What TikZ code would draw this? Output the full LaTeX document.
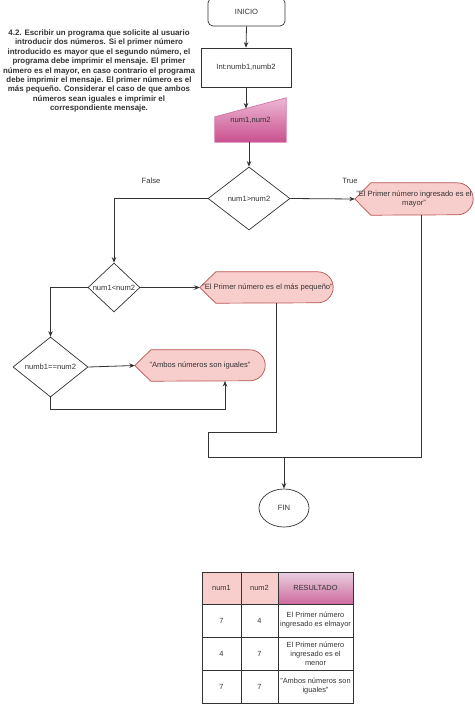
\documentclass[tikz,border=0pt]{standalone}
\usepackage{fontspec}
\setmainfont{Liberation Sans}
\usetikzlibrary{shapes.geometric,arrows.meta,backgrounds}
\definecolor{linec}{HTML}{333333}
\definecolor{pinkfill}{HTML}{F8CECC}
\definecolor{pinkline}{HTML}{B85450}
\definecolor{magtop}{HTML}{EDB8D5}
\definecolor{magbot}{HTML}{C9508E}
\definecolor{restop}{HTML}{E8D0E0}
\definecolor{resbot}{HTML}{CE6A9E}
\definecolor{txt}{HTML}{333333}
\begin{document}
\begin{tikzpicture}[x=1pt,y=1pt,
  every node/.style={font=\fontsize{7.6}{8.6}\selectfont, text=txt},
  conn/.style={draw=linec, line width=0.8pt},
  arr/.style={conn, -{Stealth[length=5.5pt,width=4.5pt]}},
  startend/.style={draw=linec, rounded corners=5pt, line width=0.7pt, inner sep=0pt, minimum width=77pt, minimum height=28pt},
  procbox/.style={draw=linec, line width=0.7pt, inner sep=0pt, minimum width=90pt, minimum height=39pt},
  decis/.style={diamond, draw=linec, line width=0.7pt, inner sep=0pt},
  holder/.style={inner sep=0pt, align=center},
  dispshape/.style={fill=pinkfill, draw=pinkline, line width=0.7pt},
  cell/.style={draw=linec, line width=0.6pt, inner sep=0pt, align=center, font=\fontsize{7.4}{9}\selectfont},
  lbl/.style={font=\fontsize{7.6}{8.6}\selectfont}
]
\useasboundingbox (0,0) rectangle (474,-704);

% problem statement
\node[align=center, font=\fontsize{7.9}{9.4}\selectfont\bfseries] (stmt) at (99,-71) {4.2. Escribir un programa que solicite al usuario\\
introducir dos números. Si el primer número\\
introducido es mayor que el segundo número, el\\
programa debe imprimir el mensaje. El primer\\
número es el mayor, en caso contrario el programa\\
debe imprimir el mensaje. El primer número es el\\
más pequeño. Considerar el caso de que ambos\\
números sean iguales e imprimir el\\
correspondiente mensaje.};

% flowchart nodes
\node[startend] (inicio) at (246.5,-12) {INICIO};
\node[procbox] (decl) at (246,-67.5) {Int:numb1,numb2};
\node[holder, minimum width=71pt, minimum height=44pt] (inp) at (250.5,-120) {num1,num2};
\coordinate (inptop) at (246,-108.5);
\coordinate (inpbot) at (249,-142);

\node[decis, minimum width=82pt, minimum height=63pt] (d1) at (249,-198.5) {\makebox[0pt]{num1>num2}};
\node[holder, minimum width=118pt, minimum height=32pt] (m1) at (414,-199) {"El Primer número ingresado es el\\mayor"};
\node[decis, minimum width=52pt, minimum height=49pt] (d2) at (114,-287.5) {\makebox[0pt]{num1<num2}};
\node[holder, minimum width=133pt, minimum height=31pt] (m2) at (266.5,-287.5) {\hspace*{2pt}"El Primer número es el más pequeño"};
\node[decis, minimum width=75pt, minimum height=60pt] (d3) at (50.5,-367) {\makebox[0pt]{numb1==num2}};
\node[holder, minimum width=130pt, minimum height=31pt] (m3) at (200,-365.5) {"Ambos números son iguales"};
\node[ellipse, draw=linec, line width=0.7pt, inner sep=0pt, minimum width=50pt, minimum height=38pt] (fin) at (284,-508) {FIN};

\node[lbl] (tfalse) at (151,-181) {False};
\node[lbl] (ttrue) at (350,-181) {True};

% shapes drawn behind text
\begin{pgfonlayer}{background}
\shade[top color=magtop, bottom color=magbot, draw=magbot!80!white, line width=0.7pt]
  ([yshift=-19pt]inp.north west) -- (inp.north east) -- (inp.south east) -- (inp.south west) -- cycle;
\path[dispshape] (m1.west) -- ([xshift=16pt]m1.north west) -- ([xshift=-16pt]m1.north east)
  arc[start angle=90,end angle=-90,radius=16pt] -- ([xshift=16pt]m1.south west) -- cycle;
\path[dispshape] (m2.west) -- ([xshift=16pt]m2.north west) -- ([xshift=-15.5pt]m2.north east)
  arc[start angle=90,end angle=-90,radius=15.5pt] -- ([xshift=16pt]m2.south west) -- cycle;
\path[dispshape] (m3.west) -- ([xshift=16pt]m3.north west) -- ([xshift=-15.5pt]m3.north east)
  arc[start angle=90,end angle=-90,radius=15.5pt] -- ([xshift=16pt]m3.south west) -- cycle;
\end{pgfonlayer}

% connectors
\coordinate (m1out) at (421,-215);
\coordinate (mR) at (421,-457);
\coordinate (mL) at (208,-457);
\coordinate (m2out) at (276,-303);
\coordinate (m2corner) at (276,-432);
\coordinate (jL) at (208,-432);
\coordinate (finin) at (284,-457);
\coordinate (f1) at (114,-198.5);
\coordinate (f2) at (50.5,-287.5);
\coordinate (e1) at (50.5,-409);
\coordinate (e2) at (225,-409);
\coordinate (m3in) at (225,-381);

\draw[arr] (inicio.south) -- (decl.north);
\draw[arr] (decl.south) -- (inptop);
\draw[arr] (inpbot) -- (d1.north);
\draw[arr] (d1.east) -- (m1.west);
\draw[arr] (d1.west) -- (f1) -- (d2.north);
\draw[arr] (d2.east) -- (m2.west);
\draw[arr] (d2.west) -- (f2) -- (d3.north);
\draw[arr] (d3.east) -- (m3.west);
\draw[arr] (d3.south) -- (e1) -- (e2) -- (m3in);
\draw[conn] (m1out) -- (mR) -- (mL) -- (jL) -- (m2corner) -- (m2out);
\draw[arr] (finin) -- (fin.north);

% table
\node[cell, fill=pinkfill, minimum width=39pt, minimum height=32pt] (h1) at (221.5,-588) {num1};
\node[cell, fill=pinkfill, minimum width=37pt, minimum height=32pt] (h2) at (259.5,-588) {num2};
\node[cell, top color=restop, bottom color=resbot, minimum width=75pt, minimum height=32pt] (h3) at (315.5,-588) {RESULTADO};
\node[cell, minimum width=39pt, minimum height=33pt] (r11) at (221.5,-620.5) {7};
\node[cell, minimum width=37pt, minimum height=33pt] (r12) at (259.5,-620.5) {4};
\node[cell, minimum width=75pt, minimum height=33pt] (r13) at (315.5,-620.5) {El Primer número\\ingresado es elmayor};
\node[cell, minimum width=39pt, minimum height=33pt] (r21) at (221.5,-653.5) {4};
\node[cell, minimum width=37pt, minimum height=33pt] (r22) at (259.5,-653.5) {7};
\node[cell, minimum width=75pt, minimum height=33pt] (r23) at (315.5,-653.5) {El Primer número\\ingresado es el\\menor};
\node[cell, minimum width=39pt, minimum height=33pt] (r31) at (221.5,-686.5) {7};
\node[cell, minimum width=37pt, minimum height=33pt] (r32) at (259.5,-686.5) {7};
\node[cell, minimum width=75pt, minimum height=33pt] (r33) at (315.5,-686.5) {"Ambos números son\\iguales"};
\end{tikzpicture}
\end{document}
